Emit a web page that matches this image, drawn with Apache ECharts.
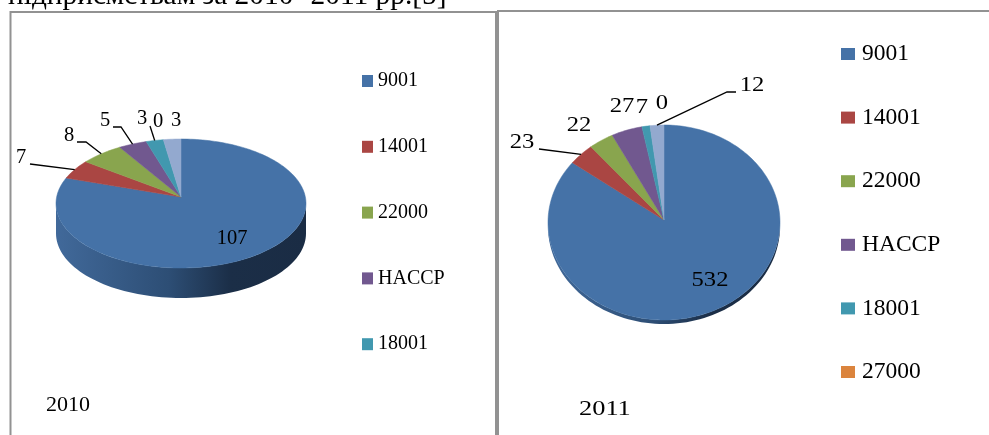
<!DOCTYPE html>
<html>
<head>
<meta charset="utf-8">
<style>html,body{margin:0;padding:0;background:#fff}#main{width:989px;height:435px}</style>
<script src="https://cdn.jsdelivr.net/npm/echarts@6/dist/echarts.min.js"></script>
</head>
<body>
<div id="main"></div>
<script>
var categories = ['9001', '14001', '22000', 'HACCP', '18001', '27000', 'other'];
var values2010 = [107, 7, 8, 5, 3, 0, 3];
var values2011 = [532, 23, 22, 27, 7, 0, 12];
var colors = ['#4572a7', '#aa4643', '#89a54e', '#71588f', '#4198af', '#db843d', '#93a9cf'];
var years = ['2010', '2011'];
var caption = 'підприємствам за 2010- 2011 рр.[5]';

// geometry of the two pies: ellipse centre, radii, apex of the slices, wall height
var pies = [
  { cx: 181, cy: 203.5, rx: 125, ry: 64.5, apexY: 197, k: 58, depth: 30, values: values2010, font: 20.5, sx: 1 },
  { cx: 664, cy: 222.5, rx: 116, ry: 97.5, apexY: 220, k: 95, depth: 4, values: values2011, font: 20.5, sx: 1.2 }
];

// where the value labels sit; from/elbow = start of the leader line next to the label
var labelSpots = [
  [
    { x: 232, y: 239 },
    { x: 21, y: 158, from: [30, 164] },
    { x: 69, y: 136, from: [77, 142], elbow: [86, 142] },
    { x: 105, y: 121, from: [113, 127], elbow: [121, 127] },
    { x: 142, y: 119, from: [150, 126] },
    { x: 158, y: 122 },
    { x: 176, y: 121 }
  ],
  [
    { x: 710, y: 281 },
    { x: 522, y: 143, from: [539, 149] },
    { x: 579, y: 126 },
    { x: 622, y: 107 },
    { x: 642, y: 108 },
    { x: 662, y: 104 },
    { x: 752, y: 86, from: [736, 92], elbow: [727, 92] }
  ]
];

function sum(list) {
  return list.reduce(function (a, b) { return a + b; }, 0);
}

// point where the ray from the apex at the given angle meets the rim ellipse
function rimPoint(pie, angle) {
  var dx = Math.sin(angle) * pie.rx;
  var dy = -Math.cos(angle) * pie.k;
  var off = pie.apexY - pie.cy;
  var a = dx * dx / (pie.rx * pie.rx) + dy * dy / (pie.ry * pie.ry);
  var b = 2 * dy * off / (pie.ry * pie.ry);
  var c = off * off / (pie.ry * pie.ry) - 1;
  var t = (-b + Math.sqrt(b * b - 4 * a * c)) / (2 * a);
  return [pie.cx + dx * t, pie.apexY + dy * t];
}

function renderSlice(params, api) {
  var yearIdx = api.value(0);
  var value = api.value(1);
  var catIdx = params.seriesIndex;
  var pie = pies[yearIdx];
  var total = sum(pie.values);
  var before = sum(pie.values.slice(0, catIdx));
  var start = before / total * Math.PI * 2;
  var end = (before + value) / total * Math.PI * 2;
  var mid = (start + end) / 2;
  var children = [];

  // the wall under the front of the pie
  if (catIdx === 0) {
    var top = [], bottom = [];
    for (var s = 0; s <= 80; s++) {
      var w = Math.PI * s / 80;
      var x = pie.cx + pie.rx * Math.cos(w);
      var y = pie.cy + pie.ry * Math.sin(w);
      top.push([x, y]);
      bottom.unshift([x, y + pie.depth]);
    }
    children.push({
      type: 'polygon',
      shape: { points: top.concat(bottom) },
      style: {
        fill: new echarts.graphic.LinearGradient(0, 0, 1, 0, [
          { offset: 0, color: '#41699a' }, { offset: 0.45, color: '#2d4e75' },
          { offset: 0.7, color: '#1b2e47' }, { offset: 1, color: '#1a2c44' }
        ])
      }
    });
  }

  if (value > 0) {
    var pts = [[pie.cx, pie.apexY]];
    var steps = Math.max(2, Math.ceil((end - start) * 40));
    for (var n = 0; n <= steps; n++) pts.push(rimPoint(pie, start + (end - start) * n / steps));
    children.push({
      type: 'polygon',
      shape: { points: pts },
      style: { fill: colors[catIdx], stroke: colors[catIdx], lineWidth: 0.5 }
    });
  }

  var spot = labelSpots[yearIdx][catIdx];
  if (spot.from) {
    var line = [spot.from];
    if (spot.elbow) line.push(spot.elbow);
    line.push(rimPoint(pie, mid));
    children.push({
      type: 'polyline',
      shape: { points: line },
      style: { stroke: '#000', lineWidth: 1.3, fill: null }
    });
  }
  children.push({
    type: 'text',
    x: spot.x,
    y: spot.y,
    scaleX: pie.sx,
    style: {
      text: String(value),
      font: pie.font + 'px "Liberation Serif"',
      fill: '#000',
      align: 'center',
      verticalAlign: 'middle'
    }
  });
  return { type: 'group', children: children };
}

var chart = echarts.init(document.getElementById('main'));

var series = categories.map(function (name, i) {
  return {
    name: name,
    type: 'custom',
    coordinateSystem: 'none',
    silent: true,
    animation: false,
    clip: false,
    itemStyle: { color: colors[i] },
    z: i === 0 ? 2 : 3,
    renderItem: renderSlice,
    data: [[0, values2010[i]], [1, values2011[i]]]
  };
});

function plainText(text, x, y, size, sx) {
  return {
    type: 'text', x: x, y: y, scaleX: sx || 1,
    style: { text: text, font: size + 'px "Liberation Serif"', fill: '#000', align: 'left', verticalAlign: 'middle' }
  };
}

function frameLine(points) {
  return {
    type: 'polyline',
    shape: { points: points },
    style: { stroke: '#929292', lineWidth: 2, fill: null }
  };
}

var option = {
  backgroundColor: '#fff',
  animation: false,
  legend: [
    {
      left: 362, top: 71, orient: 'vertical', selectedMode: false,
      data: categories.slice(0, 5), icon: 'rect', itemWidth: 11, itemHeight: 12, itemGap: 45.8, padding: 0,
      textStyle: { fontFamily: 'Liberation Serif', fontSize: 20, lineHeight: 20, color: '#000' }
    },
    {
      left: 841, top: 42, orient: 'vertical', selectedMode: false,
      data: categories.slice(0, 6), icon: 'rect', itemWidth: 14, itemHeight: 12, itemGap: 39.6, padding: 0,
      textStyle: { fontFamily: 'Liberation Serif', fontSize: 23.5, lineHeight: 20, color: '#000', padding: [0, 0, 0, 2] }
    }
  ],
  graphic: [
    frameLine([[10.5, 435], [10.5, 12], [496, 12], [496, 435]]),
    frameLine([[498, 435], [498, 11], [989, 11]]),
    plainText(caption, 8, -3.4, 29.4),
    plainText(years[0], 46, 405, 22),
    plainText(years[1], 579, 409, 22, 1.2)
  ],
  series: series
};

chart.setOption(option);
</script>
</body>
</html>
